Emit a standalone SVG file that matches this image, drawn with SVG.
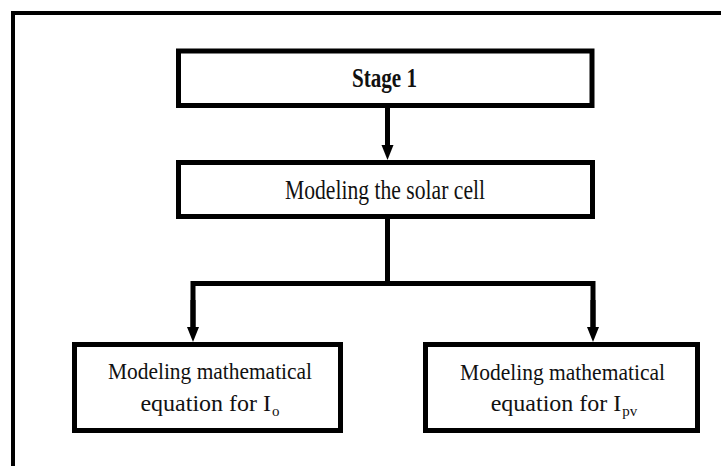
<svg xmlns="http://www.w3.org/2000/svg" width="721" height="466" viewBox="0 0 721 466">
<style>
.box{fill:#fff;stroke:#000;stroke-width:5}
.conn{fill:none;stroke:#000;stroke-width:5}
.t{font-family:"Liberation Serif","Times New Roman",serif;fill:#111;text-anchor:middle}
.b{font-weight:bold}
</style>
<defs>
<marker id="ah" markerUnits="userSpaceOnUse" markerWidth="16" markerHeight="14" refX="5" refY="6" orient="auto" viewBox="0 0 16 12">
<path d="M0,0 L15,6 L0,12 z" fill="#000"/>
</marker>
</defs>
<rect x="13" y="13" width="720" height="470" fill="#fff" stroke="#000" stroke-width="4"/>
<g id="connectors">
<line class="conn" x1="387.5" y1="108" x2="387.5" y2="150" marker-end="url(#ah)"/>
<polyline class="conn" points="387.5,219 387.5,283.5"/>
<polyline class="conn" points="193,332 193,283.5 593,283.5 593,332"/>
<line class="conn" x1="193" y1="300" x2="193" y2="332" marker-end="url(#ah)"/>
<line class="conn" x1="593" y1="300" x2="593" y2="332" marker-end="url(#ah)"/>
</g>
<g id="stage1">
<rect class="box" x="178.5" y="51" width="413.5" height="54.5"/>
<text class="t b" x="384.5" y="87" font-size="27" textLength="65" lengthAdjust="spacingAndGlyphs">Stage 1</text>
</g>
<g id="solarcell">
<rect class="box" x="178.5" y="162.5" width="414" height="54"/>
<text class="t" x="385" y="199" font-size="27" textLength="200" lengthAdjust="spacingAndGlyphs">Modeling the solar cell</text>
</g>
<g id="eq-io">
<rect class="box" x="74.5" y="344.5" width="266" height="86"/>
<text class="t" x="210" y="379" font-size="24" textLength="204" lengthAdjust="spacingAndGlyphs">Modeling mathematical</text>
<text class="t" x="210" y="411" font-size="24">equation for I<tspan font-size="15" dx="1" dy="5">o</tspan></text>
</g>
<g id="eq-ipv">
<rect class="box" x="425.5" y="344.5" width="272" height="86"/>
<text class="t" x="562.5" y="380" font-size="24" textLength="205" lengthAdjust="spacingAndGlyphs">Modeling mathematical</text>
<text class="t" x="564" y="411" font-size="24">equation for I<tspan font-size="15" dx="1" dy="5">pv</tspan></text>
</g>
</svg>
